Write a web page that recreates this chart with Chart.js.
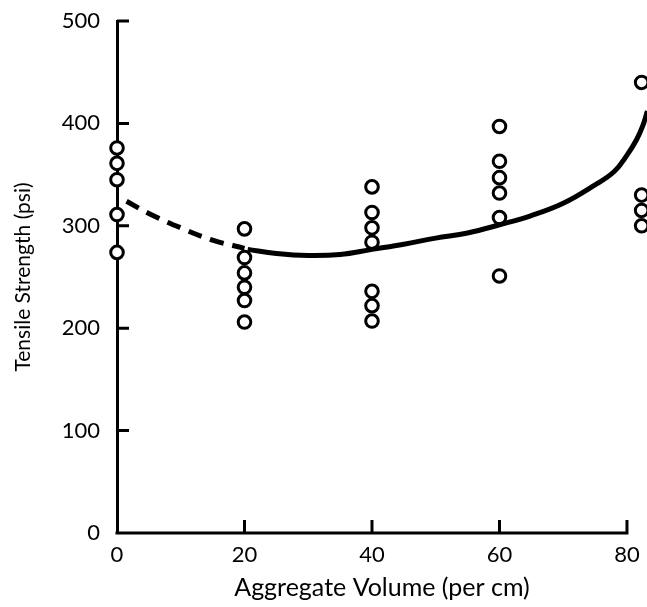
<!DOCTYPE html>
<html>
<head>
<meta charset="utf-8">
<script src="https://cdn.jsdelivr.net/npm/chart.js@4"></script>
<style>
  html, body { margin: 0; padding: 0; background: #fff; }
  #wrap { width: 647px; height: 607px; position: relative; }
</style>
</head>
<body>
<div id="wrap"><canvas id="strength-chart"></canvas></div>
<script>
// Tensile strength vs aggregate volume
const volumes = [0, 20, 40, 60, 82.3];
const strengthsAt0 = [376, 361, 345, 311, 274];
const strengthsAt20 = [297, 269, 254, 240, 227, 206];
const strengthsAt40 = [338, 313, 298, 284, 236, 222, 207];
const strengthsAt60 = [397, 363, 347, 332, 308, 251];
const strengthsAt82 = [440, 330, 315, 300];

// fitted curve, dashed part (extrapolated) and solid part
const dashedX = [1.5, 5, 10, 15, 20];
const dashedY = [324, 312, 298, 286, 278];
const solidX = [20.5, 25, 30, 35, 40, 45, 50, 55, 60, 65, 70, 75, 78, 80, 81.5, 82.5, 83.2];
const solidY = [277, 273, 271, 272, 277, 282, 288, 293, 301, 310, 322, 340, 353, 369, 384, 398, 412];

const yTicks = [0, 100, 200, 300, 400, 500];
const xTicks = [0, 20, 40, 60, 80];

const FONT = 'Lato, "DejaVu Sans", sans-serif';

const allStrengths = [strengthsAt0, strengthsAt20, strengthsAt40, strengthsAt60, strengthsAt82];
const points = [];
volumes.forEach((v, i) => {
    allStrengths[i].forEach(s => points.push({ x: v, y: s }));
});
const toXY = (xs, ys) => xs.map((x, i) => ({ x: x, y: ys[i] }));

// x axis line (stops at 80) and inward tick marks
const axisMarks = {
    id: 'axisMarks',
    afterDraw(chart) {
        const ctx = chart.ctx;
        const xs = chart.scales.x;
        const ys = chart.scales.y;
        const area = chart.chartArea;
        const x80 = xs.getPixelForValue(xTicks[xTicks.length - 1]);
        ctx.save();
        ctx.strokeStyle = '#000';
        ctx.lineWidth = 3;
        ctx.beginPath();
        ctx.moveTo(area.left - 1.5, area.bottom);
        ctx.lineTo(x80 + 1.5, area.bottom);
        yTicks.filter(t => t > 0).forEach(t => {
            const py = ys.getPixelForValue(t);
            ctx.moveTo(area.left, py);
            ctx.lineTo(area.left + 12, py);
        });
        xTicks.filter(t => t > 0).forEach(t => {
            const px = xs.getPixelForValue(t);
            ctx.moveTo(px, area.bottom);
            ctx.lineTo(px, area.bottom - 13);
        });
        ctx.stroke();
        ctx.restore();
    }
};

const config = {
    type: 'scatter',
    data: {
        datasets: [
            {
                label: 'Fit (extrapolated)',
                data: toXY(dashedX, dashedY),
                showLine: true,
                borderColor: '#000',
                borderWidth: 5,
                borderDash: [14, 9],
                pointRadius: 0,
                tension: 0.4,
                clip: false,
                order: 1
            },
            {
                label: 'Fit',
                data: toXY(solidX, solidY),
                showLine: true,
                borderColor: '#000',
                borderWidth: 5,
                pointRadius: 0,
                tension: 0.4,
                clip: false,
                order: 1
            },
            {
                label: 'Specimens',
                data: points,
                pointStyle: 'circle',
                pointRadius: 6.3,
                pointBorderWidth: 3,
                borderColor: '#000',
                backgroundColor: '#fff',
                clip: false,
                order: 2
            }
        ]
    },
    options: {
        responsive: true,
        maintainAspectRatio: false,
        animation: false,
        layout: {
            autoPadding: false,
            padding: { left: 0, top: 21, right: 0, bottom: 0 }
        },
        plugins: {
            legend: { display: false },
            tooltip: { enabled: false }
        },
        scales: {
            x: {
                type: 'linear',
                min: 0,
                max: 83.14,
                afterFit: s => { s.height = 74; s.paddingRight = 0; s.paddingLeft = 0; },
                afterBuildTicks: s => { s.ticks = xTicks.map(v => ({ value: v })); },
                border: { display: false },
                grid: { display: false, drawTicks: false },
                ticks: {
                    color: '#000',
                    padding: 9,
                    font: { family: FONT, size: 22 }
                },
                title: {
                    display: true,
                    text: 'Aggregate Volume (per cm)',
                    color: '#000',
                    padding: { top: 0, bottom: 4 },
                    font: { family: FONT, size: 25 }
                }
            },
            y: {
                type: 'linear',
                min: 0,
                max: 500,
                afterFit: s => { s.width = 117; s.paddingTop = 0; s.paddingBottom = 0; },
                afterBuildTicks: s => { s.ticks = yTicks.map(v => ({ value: v })); },
                border: { color: '#000', width: 3 },
                grid: { display: false, drawTicks: false },
                ticks: {
                    color: '#000',
                    padding: 17,
                    font: { family: FONT, size: 22 }
                },
                title: {
                    display: true,
                    text: 'Tensile Strength (psi)',
                    color: '#000',
                    padding: { top: 11, bottom: 0 },
                    font: { family: FONT, size: 21 }
                }
            }
        }
    },
    plugins: [axisMarks]
};

const strengthChart = new Chart(document.getElementById('strength-chart'), config);
</script>
</body>
</html>
